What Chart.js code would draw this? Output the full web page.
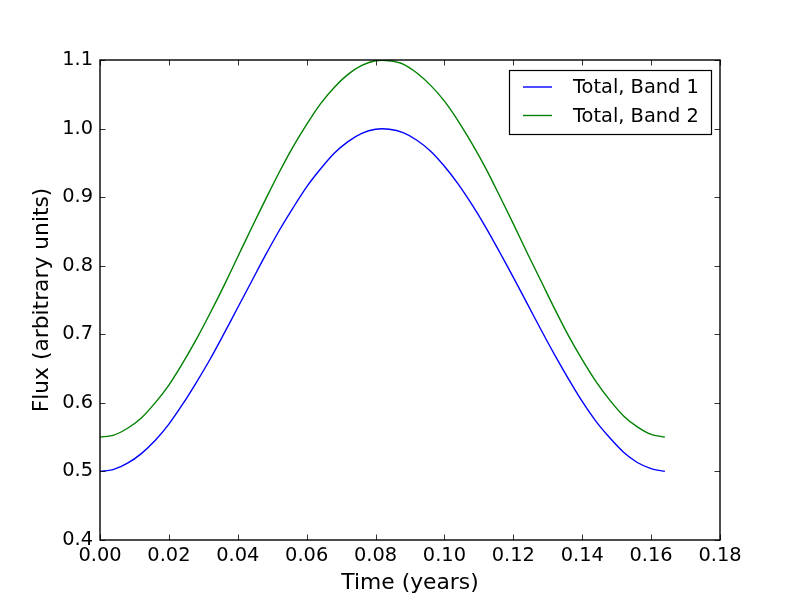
<!DOCTYPE html>
<html>
<head>
<meta charset="utf-8">
<script src="https://cdn.jsdelivr.net/npm/chart.js@4.4.0/dist/chart.umd.min.js"></script>
<style>
  html, body { margin: 0; padding: 0; background: #fff; }
  #miGrafico { display: block; }
</style>
</head>
<body>
<canvas id="miGrafico" width="800" height="600"></canvas>
<script>
// time in years
var tiempo = [0.000, 0.004, 0.008, 0.012, 0.016, 0.020, 0.024, 0.028, 0.032, 0.036, 0.040,
  0.044, 0.048, 0.052, 0.056, 0.060, 0.064, 0.068, 0.072, 0.076, 0.080,
  0.084, 0.088, 0.092, 0.096, 0.100, 0.104, 0.108, 0.112, 0.116, 0.120,
  0.124, 0.128, 0.132, 0.136, 0.140, 0.144, 0.148, 0.152, 0.156, 0.160, 0.164];

var banda1 = [0.500, 0.503, 0.512, 0.526, 0.545, 0.569, 0.598, 0.630, 0.664, 0.701, 0.739,
  0.777, 0.815, 0.851, 0.884, 0.915, 0.941, 0.964, 0.981, 0.993, 0.999,
  0.999, 0.994, 0.983, 0.967, 0.945, 0.919, 0.889, 0.856, 0.820, 0.783,
  0.745, 0.707, 0.670, 0.635, 0.602, 0.573, 0.549, 0.528, 0.513, 0.504, 0.500];

var banda2 = [0.550, 0.553, 0.563, 0.578, 0.600, 0.626, 0.658, 0.693, 0.731, 0.771, 0.813,
  0.855, 0.896, 0.936, 0.973, 1.006, 1.036, 1.060, 1.079, 1.092, 1.099,
  1.099, 1.094, 1.081, 1.063, 1.040, 1.011, 0.978, 0.942, 0.902, 0.861,
  0.819, 0.778, 0.737, 0.698, 0.663, 0.631, 0.604, 0.581, 0.565, 0.554, 0.550];

var etiquetas = ['Total, Band 1', 'Total, Band 2'];
var colores = ['#0000ff', '#008000'];

var ticksX = [0, 0.02, 0.04, 0.06, 0.08, 0.10, 0.12, 0.14, 0.16, 0.18];
var ticksY = [0.4, 0.5, 0.6, 0.7, 0.8, 0.9, 1.0, 1.1];

const FUENTE = { family: 'DejaVu Sans', size: 19.4 };
const FUENTE_TITULO = { family: 'DejaVu Sans', size: 21.8 };
const GRAFICO = document.getElementById('miGrafico');

function puntos(ys) {
    return tiempo.map(function (t, i) { return { x: t, y: ys[i] }; });
}

// frame, inward ticks on all four sides and the legend box
var marcoPlugin = {
    id: 'marco',
    afterDraw: function (chart) {
        var ctx = chart.ctx;
        var a = chart.chartArea;
        var sx = chart.scales.x, sy = chart.scales.y;
        var largo = 5.5;
        ctx.save();
        ctx.strokeStyle = '#000';
        ctx.lineWidth = 0.8;
        ctx.beginPath();
        ticksX.forEach(function (v) {
            var px = Math.round(sx.getPixelForValue(v)) + 0.5;
            ctx.moveTo(px, a.bottom); ctx.lineTo(px, a.bottom - largo);
            ctx.moveTo(px, a.top); ctx.lineTo(px, a.top + largo);
        });
        ticksY.forEach(function (v) {
            var py = Math.round(sy.getPixelForValue(v)) + 0.5;
            ctx.moveTo(a.left, py); ctx.lineTo(a.left + largo, py);
            ctx.moveTo(a.right, py); ctx.lineTo(a.right - largo, py);
        });
        ctx.stroke();

        ctx.lineWidth = 1.4;
        ctx.strokeRect(a.left, a.top, a.right - a.left, a.bottom - a.top);

        // legend
        var lx = 509, ly = 70, lw = 202, lh = 64;
        ctx.fillStyle = '#fff';
        ctx.fillRect(lx, ly, lw, lh);
        ctx.lineWidth = 1.2;
        ctx.strokeRect(lx + 0.5, ly + 0.5, lw, lh);
        ctx.font = FUENTE.size + 'px "' + FUENTE.family + '"';
        ctx.textBaseline = 'middle';
        ctx.textAlign = 'left';
        etiquetas.forEach(function (txt, i) {
            var y = 87 + i * 28.5;
            ctx.strokeStyle = colores[i];
            ctx.lineWidth = 1.4;
            ctx.beginPath();
            ctx.moveTo(523, y); ctx.lineTo(552, y);
            ctx.stroke();
            ctx.fillStyle = '#000';
            ctx.fillText(txt, 573, y + 1);
        });
        ctx.restore();
    }
};

let graficaLinea = new Chart(GRAFICO, {
    type: 'line',
    data: {
        datasets: [{
            label: etiquetas[0],
            data: puntos(banda1),
            borderColor: colores[0],
            borderWidth: 1.4,
            pointRadius: 0,
            tension: 0.3,
            fill: false
        }, {
            label: etiquetas[1],
            data: puntos(banda2),
            borderColor: colores[1],
            borderWidth: 1.4,
            pointRadius: 0,
            tension: 0.3,
            fill: false
        }]
    },
    options: {
        responsive: false,
        animation: false,
        layout: { padding: { top: 60, right: 80, left: 0, bottom: 0 } },
        plugins: {
            legend: { display: false },
            tooltip: { enabled: false }
        },
        scales: {
            x: {
                type: 'linear',
                min: 0,
                max: 0.18,
                afterFit: function (s) { s.height = 60; },
                afterBuildTicks: function (s) { s.ticks = ticksX.map(function (v) { return { value: v }; }); },
                grid: { display: false, drawTicks: false },
                border: { display: false },
                ticks: {
                    color: '#000',
                    font: FUENTE,
                    padding: 4,
                    maxRotation: 0,
                    autoSkip: false,
                    callback: function (v) { return v.toFixed(2); }
                },
                title: {
                    display: true,
                    text: 'Time (years)',
                    color: '#000',
                    font: FUENTE_TITULO,
                    padding: { top: 0, bottom: 4 }
                }
            },
            y: {
                type: 'linear',
                min: 0.4,
                max: 1.1,
                afterFit: function (s) { s.width = 100; },
                afterBuildTicks: function (s) { s.ticks = ticksY.map(function (v) { return { value: v }; }); },
                grid: { display: false, drawTicks: false },
                border: { display: false },
                ticks: {
                    color: '#000',
                    font: FUENTE,
                    padding: 7,
                    autoSkip: false,
                    callback: function (v) { return v.toFixed(1); }
                },
                title: {
                    display: true,
                    text: 'Flux (arbitrary units)',
                    color: '#000',
                    font: FUENTE_TITULO,
                    padding: { top: 29, bottom: 0 }
                }
            }
        }
    },
    plugins: [marcoPlugin]
});
</script>
</body>
</html>
